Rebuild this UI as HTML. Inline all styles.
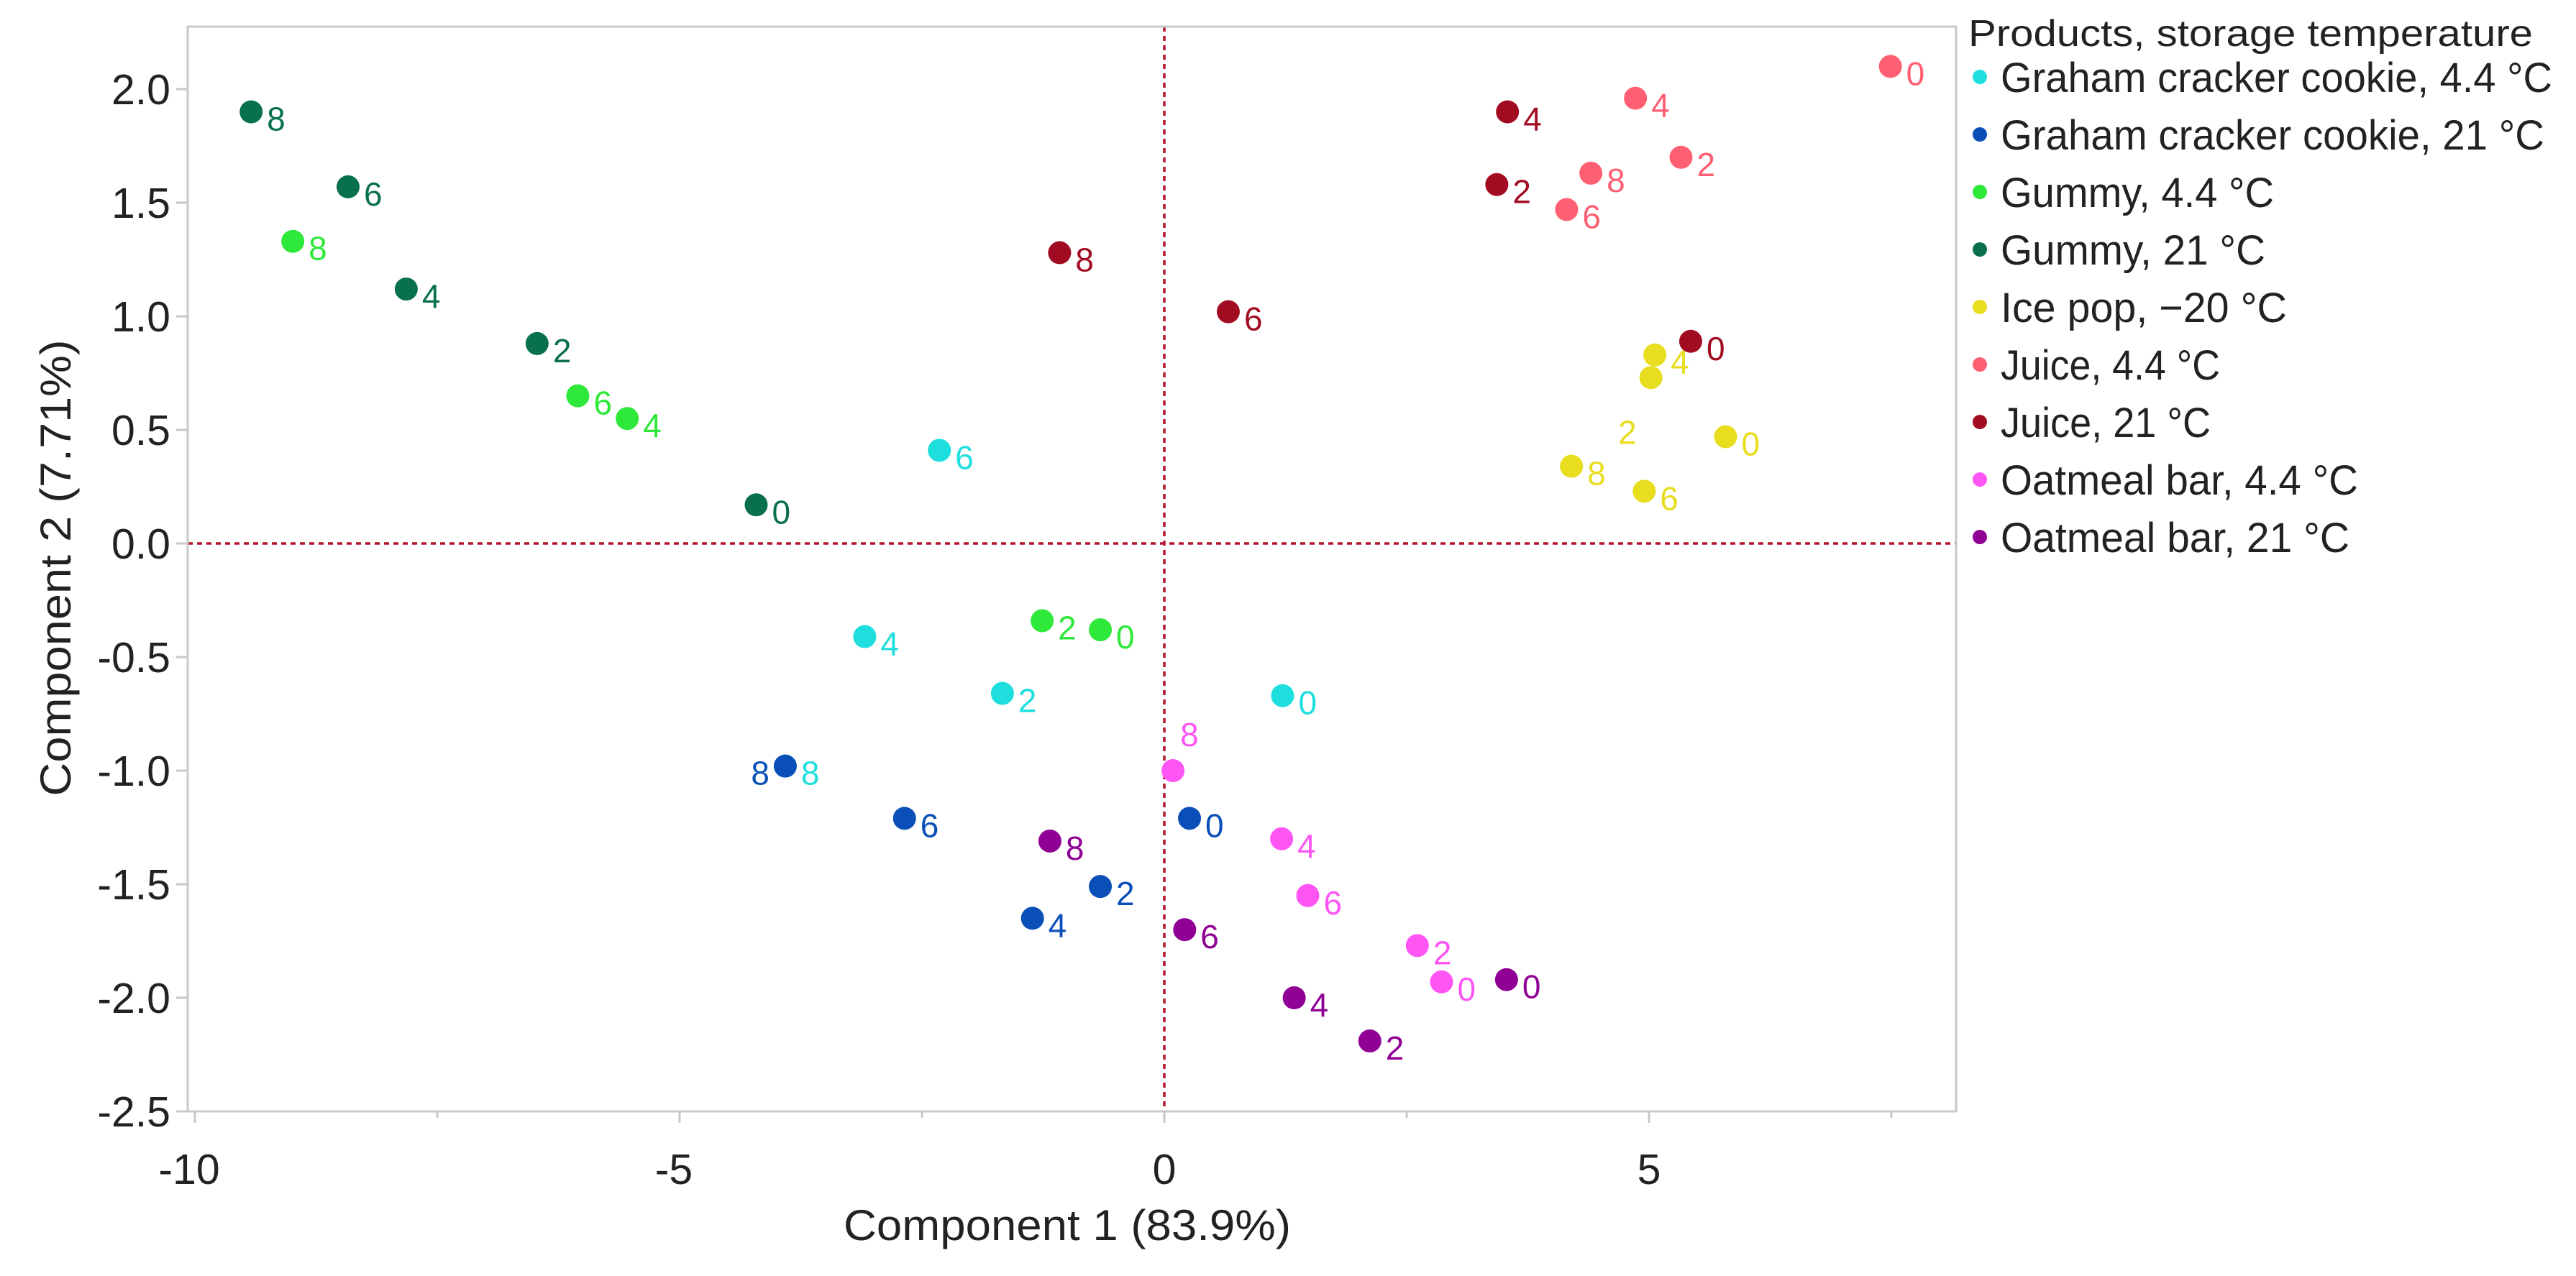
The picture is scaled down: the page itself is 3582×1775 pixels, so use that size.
<!DOCTYPE html>
<html><head><meta charset="utf-8">
<style>
html,body{margin:0;padding:0;background:#fff;}
svg{display:block;font-family:"Liberation Sans",sans-serif;}
</style></head>
<body>
<svg id="chart" width="3582" height="1775" viewBox="0 0 3582 1775" xmlns="http://www.w3.org/2000/svg">
<rect x="0" y="0" width="3582" height="1775" fill="#fff"/>
<g id="grid"></g>
<g id="points"></g>
<g id="axes"></g>
<g id="legend"></g>
</svg>
<script>
const seriesNames = ["Graham cracker cookie, 4.4 °C","Graham cracker cookie, 21 °C","Gummy, 4.4 °C","Gummy, 21 °C","Ice pop, \u221220 °C","Juice, 4.4 °C","Juice, 21 °C","Oatmeal bar, 4.4 °C","Oatmeal bar, 21 °C"];
const seriesColors = ["#1fdede","#0a4fb8","#2ee83a","#08704f","#e8dd1e","#ff5f72","#a20c22","#ff55f5","#900095"];
const seriesLabels = [
 ["6","4","2","8","0"],
 ["8","6","4","2","0"],
 ["8","6","4","2","0"],
 ["8","6","4","2","0"],
 ["4","2","0","8","6"],
 ["0","4","2","8","6"],
 ["8","6","4","2","0"],
 ["8","4","6","2","0"],
 ["8","6","4","2","0"]
];
const seriesX = [
 [-2.32,-3.09,-1.67,-3.91,1.22],
 [-3.91,-2.68,-1.36,-0.66,0.26],
 [-8.99,-6.05,-5.54,-1.26,-0.66],
 [-9.42,-8.42,-7.82,-6.47,-4.21],
 [5.06,5.02,5.79,4.20,4.95],
 [7.49,4.86,5.33,4.40,4.15],
 [-1.08,0.66,3.54,3.43,5.43],
 [0.09,1.21,1.48,2.61,2.86],
 [-1.18,0.21,1.34,2.12,3.53]
];
const seriesY = [
 [0.41,-0.41,-0.66,-0.98,-0.67],
 [-0.98,-1.21,-1.65,-1.51,-1.21],
 [1.33,0.65,0.55,-0.34,-0.38],
 [1.90,1.57,1.12,0.88,0.17],
 [0.83,0.73,0.47,0.34,0.23],
 [2.10,1.96,1.70,1.63,1.47],
 [1.28,1.02,1.90,1.58,0.89],
 [-1.00,-1.30,-1.55,-1.77,-1.93],
 [-1.31,-1.70,-2.00,-2.19,-1.92]
];
// label placement codes: r = right, l = left, bl = below-left, a = above-right
const labelPlacement = [
 ["r","r","r","r","r"],
 ["l","r","r","r","r"],
 ["r","r","r","r","r"],
 ["r","r","r","r","r"],
 ["r","bl","r","r","r"],
 ["r","r","r","r","r"],
 ["r","r","r","r","r"],
 ["a","r","r","r","r"],
 ["r","r","r","r","r"]
];
const xTicks = [-10,-5,0,5];
const xTickLabels = ["-10","-5","0","5"];
const xMinorTicks = [-7.5,-2.5,2.5,7.5];
const yTicks = [2.0,1.5,1.0,0.5,0.0,-0.5,-1.0,-1.5,-2.0,-2.5];
const yTickLabels = ["2.0","1.5","1.0","0.5","0.0","-0.5","-1.0","-1.5","-2.0","-2.5"];

const NS="http://www.w3.org/2000/svg";
const FL=261, FR=2720, FT=37, FB=1546;
const X0=1619, XU=134.8, Y0=756, YU=316;
function sx(v){return X0+v*XU;}
function sy(v){return Y0-v*YU;}
function mk(tag,attrs,parent,text){const e=document.createElementNS(NS,tag);for(const k in attrs)e.setAttribute(k,attrs[k]);if(text!==undefined)e.textContent=text;parent.appendChild(e);return e;}

const grid=document.getElementById('grid'), pts=document.getElementById('points'), axes=document.getElementById('axes'), leg=document.getElementById('legend');

let fr=mk('rect',{x:FL,y:FT,width:FR-FL,height:FB-FT,fill:'none',stroke:'#c8c8c8','stroke-width':3},axes);


let hl=mk('line',{x1:FL,x2:FR,y1:sy(0),y2:sy(0),stroke:'#b5122e','stroke-width':3.5,'stroke-dasharray':'7 6'},grid);


let vl=mk('line',{x1:sx(0),x2:sx(0),y1:FT,y2:FB,stroke:'#b5122e','stroke-width':3.5,'stroke-dasharray':'7 6'},grid);



yTicks.forEach((v,i)=>{
  const t=mk('line',{x1:FL-16,x2:FL,y1:sy(v),y2:sy(v),stroke:'#c8c8c8','stroke-width':3},axes);
  
  
  const l=mk('text',{x:237,y:sy(v)+21,'text-anchor':'end','font-size':59,fill:'#222'},axes,yTickLabels[i]);
  
  
});
xTicks.forEach((v,i)=>{
  const t=mk('line',{x1:sx(v),x2:sx(v),y1:FB,y2:FB+16,stroke:'#c8c8c8','stroke-width':3},axes);
  
  
  const l=mk('text',{x:sx(v)+(v<0?-8:0),y:1647,'text-anchor':'middle','font-size':59,fill:'#222'},axes,xTickLabels[i]);
  
  
});
xMinorTicks.forEach(v=>{
  const t=mk('line',{x1:sx(v),x2:sx(v),y1:FB,y2:FB+9,stroke:'#c8c8c8','stroke-width':3},axes);
  
  
});
let xt=mk('text',{x:1484,y:1725,'text-anchor':'middle','font-size':60,fill:'#222',textLength:622,lengthAdjust:'spacingAndGlyphs'},axes,'Component 1 (83.9%)');


let yt=mk('text',{x:0,y:0,'text-anchor':'middle','font-size':60,fill:'#222',textLength:635,lengthAdjust:'spacingAndGlyphs',transform:'translate(98,790) rotate(-90)'},axes,'Component 2 (7.71%)');



seriesNames.forEach((name,s)=>{
  const g=mk('g',{},pts);
  
  
  seriesX[s].forEach((xv,i)=>{
    const cx=sx(xv), cy=sy(seriesY[s][i]);
    const c=mk('circle',{cx:cx,cy:cy,r:16,fill:seriesColors[s]},g);
    
    
    const p=labelPlacement[s][i];
    let lx=cx+22, ly=cy+26, anchor='start';
    if(p==='l'){lx=cx-22;anchor='end';}
    if(p==='bl'){lx=cx-20;ly=cy+92;anchor='end';}
    if(p==='a'){lx=cx+10;ly=cy-34;}
    const t=mk('text',{x:lx,y:ly,'text-anchor':anchor,'font-size':46,fill:seriesColors[s]},g,seriesLabels[s][i]);
    
    
  });
});

let lt=mk('text',{x:2737,y:64,'font-size':52,fill:'#222',textLength:785,lengthAdjust:'spacingAndGlyphs'},leg,'Products, storage temperature');


const legendWidths=[767,756,380,368,398,305,292,497,485];
seriesNames.forEach((name,s)=>{
  const g=mk('g',{},leg);
  
  
  const cy=107+s*80;
  mk('circle',{cx:2753,cy:cy,r:10,fill:seriesColors[s]},g);
  mk('text',{x:2782,y:cy+21,'font-size':58,fill:'#222',textLength:legendWidths[s],lengthAdjust:'spacingAndGlyphs'},g,name);
});
</script>
</body></html>
